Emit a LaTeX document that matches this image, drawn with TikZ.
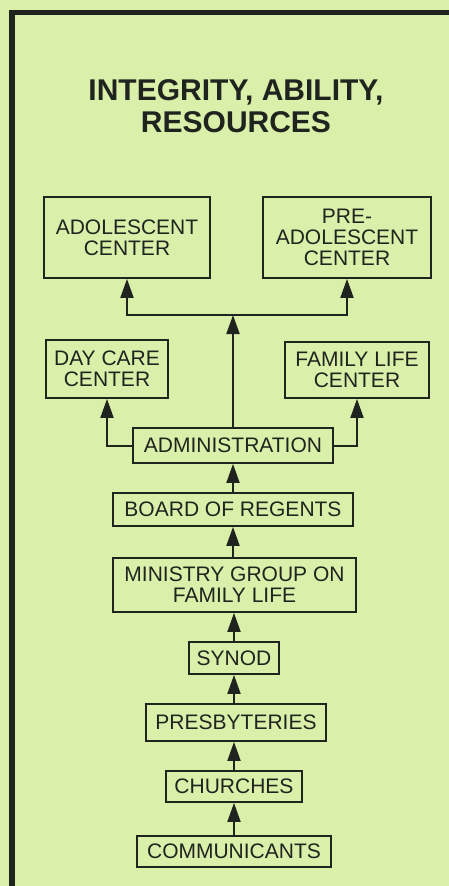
\documentclass[tikz,border=0pt]{standalone}
\usepackage{fontspec}
\setmainfont{Liberation Sans}
\usetikzlibrary{arrows.meta}
\definecolor{bg}{RGB}{218,240,170}
\definecolor{ink}{RGB}{32,36,30}
\tikzset{
  box/.style={draw=ink, line width=1.8pt, inner sep=0pt, align=center, text=ink,
    font=\fontsize{21}{21}\selectfont},
  conn/.style={draw=ink, line width=2pt},
  arr/.style={conn, -{Triangle[length=19pt,width=13pt]}},
}
\newcommand{\bx}[6]{% name, x1, y1, x2, y2, text
  \node[box, minimum width={#4-#2}, minimum height={#5-#3}] (#1) at ({(#2+#4)/2},{(#3+#5)/2}) {#6};}
\begin{document}
\begin{tikzpicture}[x=1pt,y=-1pt]
\useasboundingbox (0,0) rectangle (449,886);
\fill[bg] (0,0) rectangle (449,886);
\draw[ink, line width=5.5pt] (12,886) -- (12,12.5) -- (449,12.5);
\node[text=ink, align=center, font=\fontsize{30}{32}\selectfont\bfseries] (title) at (236,106) {INTEGRITY, ABILITY,\\RESOURCES};
\bx{adol}{44}{197}{210}{278}{ADOLESCENT\\CENTER}
\bx{pre}{263}{197}{431}{278}{PRE-\\ADOLESCENT\\CENTER}
\bx{day}{46}{340}{168}{398}{DAY CARE\\CENTER}
\bx{fam}{285}{342}{429}{398}{FAMILY LIFE\\CENTER}
\bx{admin}{133}{428}{333}{463}{ADMINISTRATION}
\bx{board}{113}{493}{353}{526}{BOARD OF REGENTS}
\bx{min}{113}{558}{356}{612}{MINISTRY GROUP ON\\FAMILY LIFE}
\bx{synod}{189}{642}{279}{674}{SYNOD}
\bx{presb}{146}{704}{326}{741}{PRESBYTERIES}
\bx{church}{166}{771}{302}{802}{CHURCHES}
\bx{comm}{137}{836}{331}{867}{COMMUNICANTS}
\coordinate (jm) at (233,315);
\coordinate (jl) at (adol.south |- jm);
\coordinate (jr) at (pre.south |- jm);
\draw[conn] ([xshift=-1pt]jl) -- ([xshift=1pt]jr);
\draw[arr] (jl) -- (adol.south);
\draw[arr] (jr) -- (pre.south);
\draw[arr] (admin.north) -- (jm);
\draw[arr] (admin.west) -| (day.south);
\draw[arr] (admin.east) -| (fam.south);
\draw[arr] (board.north -| admin.north) -- (admin.south);
\draw[arr] (min.north -| board.south) -- (board.south);
\draw[arr] (synod.north) -- (min.south -| synod.north);
\draw[arr] (presb.north -| synod.south) -- (synod.south);
\draw[arr] (church.north) -- (presb.south -| church.north);
\draw[arr] (comm.north) -- (church.south);
\end{tikzpicture}
\end{document}
